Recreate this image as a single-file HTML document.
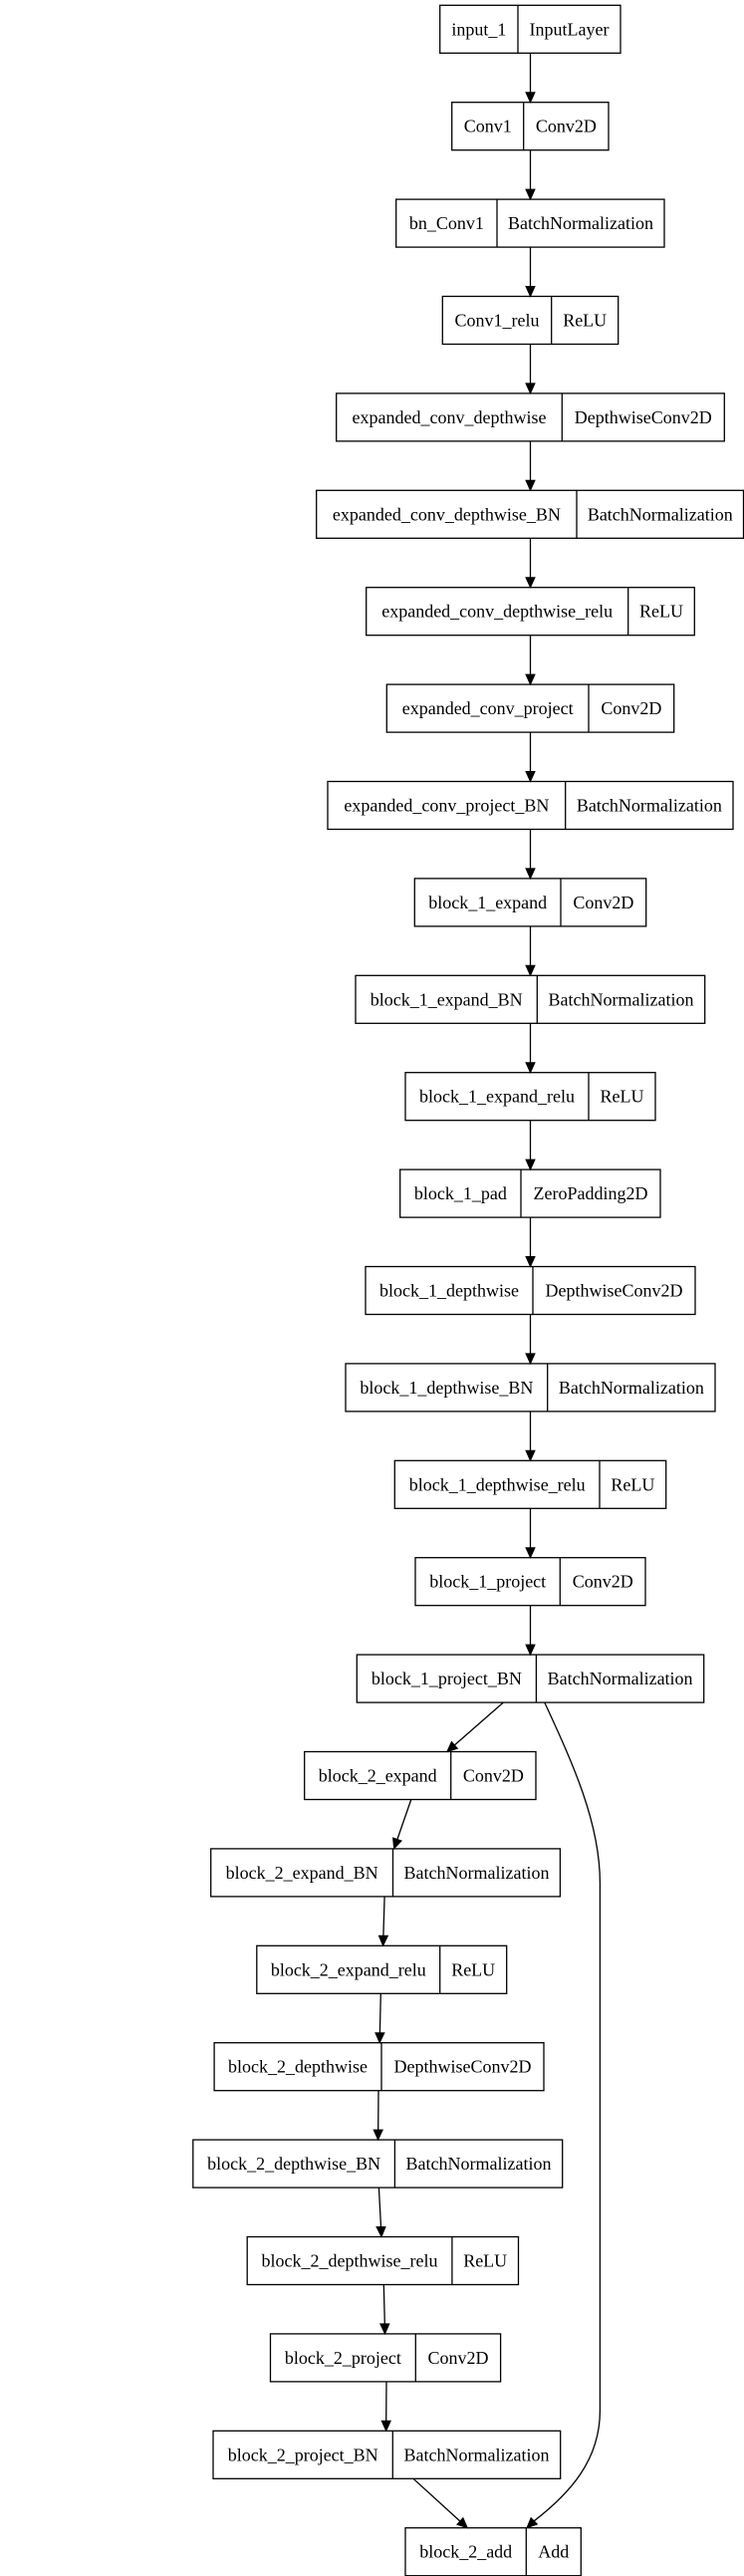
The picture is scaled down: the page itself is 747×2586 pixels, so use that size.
<!DOCTYPE html>
<html><head><meta charset="utf-8"><style>
html,body{margin:0;padding:0;background:#fff;}
svg{display:block;}
text{font-family:"Liberation Serif",serif;font-size:18px;fill:#000;text-anchor:middle;}
rect{fill:none;stroke:#000;stroke-width:1.3;}
line,path{stroke:#000;stroke-width:1.3;fill:none;}
polygon{fill:#000;stroke:#000;stroke-width:1;}
</style></head><body>
<svg width="747" height="2586" viewBox="0 0 747 2586" xmlns="http://www.w3.org/2000/svg">
<g transform="translate(0,5.3)"><rect x="441.7" y="0" width="181.3" height="48"/><line x1="520" y1="0" x2="520" y2="48"/><text x="480.9" y="30">input_1</text><text x="571.5" y="30">InputLayer</text></g>
<g transform="translate(0,102.7)"><rect x="453.7" y="0" width="157.3" height="48"/><line x1="525.7" y1="0" x2="525.7" y2="48"/><text x="489.7" y="30">Conv1</text><text x="568.4" y="30">Conv2D</text></g>
<g transform="translate(0,200.1)"><rect x="397.7" y="0" width="269.3" height="48"/><line x1="499" y1="0" x2="499" y2="48"/><text x="448.4" y="30">bn_Conv1</text><text x="583" y="30">BatchNormalization</text></g>
<g transform="translate(0,297.5)"><rect x="444.3" y="0" width="176.4" height="48"/><line x1="553.7" y1="0" x2="553.7" y2="48"/><text x="499" y="30">Conv1_relu</text><text x="587.2" y="30">ReLU</text></g>
<g transform="translate(0,394.9)"><rect x="337.7" y="0" width="389.6" height="48"/><line x1="564.3" y1="0" x2="564.3" y2="48"/><text x="451" y="30">expanded_conv_depthwise</text><text x="645.8" y="30">DepthwiseConv2D</text></g>
<g transform="translate(0,492.3)"><rect x="317.7" y="0" width="428.8" height="48"/><line x1="579" y1="0" x2="579" y2="48"/><text x="448.4" y="30">expanded_conv_depthwise_BN</text><text x="662.8" y="30">BatchNormalization</text></g>
<g transform="translate(0,589.7)"><rect x="367.7" y="0" width="329.6" height="48"/><line x1="630.7" y1="0" x2="630.7" y2="48"/><text x="499.2" y="30">expanded_conv_depthwise_relu</text><text x="664" y="30">ReLU</text></g>
<g transform="translate(0,687.1)"><rect x="388.3" y="0" width="288.4" height="48"/><line x1="591" y1="0" x2="591" y2="48"/><text x="489.7" y="30">expanded_conv_project</text><text x="633.9" y="30">Conv2D</text></g>
<g transform="translate(0,784.5)"><rect x="329" y="0" width="407" height="48"/><line x1="567.7" y1="0" x2="567.7" y2="48"/><text x="448.4" y="30">expanded_conv_project_BN</text><text x="651.9" y="30">BatchNormalization</text></g>
<g transform="translate(0,881.9)"><rect x="416.3" y="0" width="232.4" height="48"/><line x1="563" y1="0" x2="563" y2="48"/><text x="489.7" y="30">block_1_expand</text><text x="605.9" y="30">Conv2D</text></g>
<g transform="translate(0,979.3)"><rect x="357" y="0" width="350.7" height="48"/><line x1="539.3" y1="0" x2="539.3" y2="48"/><text x="448.2" y="30">block_1_expand_BN</text><text x="623.5" y="30">BatchNormalization</text></g>
<g transform="translate(0,1076.7)"><rect x="407" y="0" width="251" height="48"/><line x1="591" y1="0" x2="591" y2="48"/><text x="499" y="30">block_1_expand_relu</text><text x="624.5" y="30">ReLU</text></g>
<g transform="translate(0,1174.1)"><rect x="401.7" y="0" width="261.3" height="48"/><line x1="523" y1="0" x2="523" y2="48"/><text x="462.4" y="30">block_1_pad</text><text x="593" y="30">ZeroPadding2D</text></g>
<g transform="translate(0,1271.5)"><rect x="367" y="0" width="331" height="48"/><line x1="535" y1="0" x2="535" y2="48"/><text x="451" y="30">block_1_depthwise</text><text x="616.5" y="30">DepthwiseConv2D</text></g>
<g transform="translate(0,1368.9)"><rect x="347" y="0" width="371" height="48"/><line x1="549.7" y1="0" x2="549.7" y2="48"/><text x="448.4" y="30">block_1_depthwise_BN</text><text x="633.9" y="30">BatchNormalization</text></g>
<g transform="translate(0,1466.3)"><rect x="396.3" y="0" width="272.4" height="48"/><line x1="602" y1="0" x2="602" y2="48"/><text x="499.2" y="30">block_1_depthwise_relu</text><text x="635.4" y="30">ReLU</text></g>
<g transform="translate(0,1563.7)"><rect x="417" y="0" width="231" height="48"/><line x1="562.3" y1="0" x2="562.3" y2="48"/><text x="489.7" y="30">block_1_project</text><text x="605.2" y="30">Conv2D</text></g>
<g transform="translate(0,1661.1)"><rect x="358.3" y="0" width="348.4" height="48"/><line x1="538.4" y1="0" x2="538.4" y2="48"/><text x="448.4" y="30">block_1_project_BN</text><text x="622.6" y="30">BatchNormalization</text></g>
<g transform="translate(0,1758.5)"><rect x="305.7" y="0" width="232.3" height="48"/><line x1="452.7" y1="0" x2="452.7" y2="48"/><text x="379.2" y="30">block_2_expand</text><text x="495.4" y="30">Conv2D</text></g>
<g transform="translate(0,1855.9)"><rect x="211.7" y="0" width="350.7" height="48"/><line x1="394.5" y1="0" x2="394.5" y2="48"/><text x="303.1" y="30">block_2_expand_BN</text><text x="478.5" y="30">BatchNormalization</text></g>
<g transform="translate(0,1953.3)"><rect x="257.8" y="0" width="250.9" height="48"/><line x1="441.7" y1="0" x2="441.7" y2="48"/><text x="349.8" y="30">block_2_expand_relu</text><text x="475.2" y="30">ReLU</text></g>
<g transform="translate(0,2050.7)"><rect x="215.1" y="0" width="330.9" height="48"/><line x1="383" y1="0" x2="383" y2="48"/><text x="299" y="30">block_2_depthwise</text><text x="464.5" y="30">DepthwiseConv2D</text></g>
<g transform="translate(0,2148.1)"><rect x="193.8" y="0" width="370.9" height="48"/><line x1="396.4" y1="0" x2="396.4" y2="48"/><text x="295.1" y="30">block_2_depthwise_BN</text><text x="480.5" y="30">BatchNormalization</text></g>
<g transform="translate(0,2245.5)"><rect x="248.2" y="0" width="272.3" height="48"/><line x1="453.9" y1="0" x2="453.9" y2="48"/><text x="351" y="30">block_2_depthwise_relu</text><text x="487.2" y="30">ReLU</text></g>
<g transform="translate(0,2342.9)"><rect x="271.5" y="0" width="231.1" height="48"/><line x1="417.3" y1="0" x2="417.3" y2="48"/><text x="344.4" y="30">block_2_project</text><text x="460" y="30">Conv2D</text></g>
<g transform="translate(0,2440.3)"><rect x="214" y="0" width="348.7" height="48"/><line x1="394.3" y1="0" x2="394.3" y2="48"/><text x="304.2" y="30">block_2_project_BN</text><text x="478.5" y="30">BatchNormalization</text></g>
<g transform="translate(0,2537.7)"><rect x="407" y="0" width="176.3" height="48"/><line x1="528.3" y1="0" x2="528.3" y2="48"/><text x="467.7" y="30">block_2_add</text><text x="555.8" y="30">Add</text></g>

<g>
<line x1="532.5" y1="53.3" x2="532.5" y2="92.7"/><polygon points="528,92.7 537,92.7 532.5,102.7"/>
<line x1="532.5" y1="150.7" x2="532.5" y2="190.1"/><polygon points="528,190.1 537,190.1 532.5,200.1"/>
<line x1="532.5" y1="248.1" x2="532.5" y2="287.5"/><polygon points="528,287.5 537,287.5 532.5,297.5"/>
<line x1="532.5" y1="345.5" x2="532.5" y2="384.9"/><polygon points="528,384.9 537,384.9 532.5,394.9"/>
<line x1="532.5" y1="442.9" x2="532.5" y2="482.3"/><polygon points="528,482.3 537,482.3 532.5,492.3"/>
<line x1="532.5" y1="540.3" x2="532.5" y2="579.7"/><polygon points="528,579.7 537,579.7 532.5,589.7"/>
<line x1="532.5" y1="637.7" x2="532.5" y2="677.1"/><polygon points="528,677.1 537,677.1 532.5,687.1"/>
<line x1="532.5" y1="735.1" x2="532.5" y2="774.5"/><polygon points="528,774.5 537,774.5 532.5,784.5"/>
<line x1="532.5" y1="832.5" x2="532.5" y2="871.9"/><polygon points="528,871.9 537,871.9 532.5,881.9"/>
<line x1="532.5" y1="929.9" x2="532.5" y2="969.3"/><polygon points="528,969.3 537,969.3 532.5,979.3"/>
<line x1="532.5" y1="1027.3" x2="532.5" y2="1066.7"/><polygon points="528,1066.7 537,1066.7 532.5,1076.7"/>
<line x1="532.5" y1="1124.7" x2="532.5" y2="1164.1"/><polygon points="528,1164.1 537,1164.1 532.5,1174.1"/>
<line x1="532.5" y1="1222.1" x2="532.5" y2="1261.5"/><polygon points="528,1261.5 537,1261.5 532.5,1271.5"/>
<line x1="532.5" y1="1319.5" x2="532.5" y2="1358.9"/><polygon points="528,1358.9 537,1358.9 532.5,1368.9"/>
<line x1="532.5" y1="1416.9" x2="532.5" y2="1456.3"/><polygon points="528,1456.3 537,1456.3 532.5,1466.3"/>
<line x1="532.5" y1="1514.3" x2="532.5" y2="1553.7"/><polygon points="528,1553.7 537,1553.7 532.5,1563.7"/>
<line x1="532.5" y1="1611.7" x2="532.5" y2="1651.1"/><polygon points="528,1651.1 537,1651.1 532.5,1661.1"/>
</g>

<line x1="505.3" y1="1709.1" x2="456.4" y2="1751.9"/><polygon points="459.4,1755.3 453.4,1748.5 448.9,1758.5"/>
<line x1="412.8" y1="1806.5" x2="398.9" y2="1846.5"/><polygon points="403.1,1848 394.6,1845 395.6,1855.9"/>
<line x1="386.1" y1="1903.9" x2="384.9" y2="1943.3"/><polygon points="380.4,1943.3 389.4,1943.3 384.6,1953.3"/>
<line x1="382.3" y1="2001.3" x2="381.4" y2="2040.7"/><polygon points="376.9,2040.7 385.9,2040.7 381.2,2050.7"/>
<line x1="380" y1="2098.7" x2="379.7" y2="2138.1"/><polygon points="375.2,2138.1 384.2,2138.1 379.6,2148.1"/>
<line x1="380.4" y1="2196.1" x2="382.5" y2="2235.5"/><polygon points="378,2235.5 387,2235.5 383,2245.5"/>
<line x1="385.3" y1="2293.5" x2="386.3" y2="2332.9"/><polygon points="381.8,2332.9 390.8,2332.9 386.5,2342.9"/>
<line x1="388" y1="2390.9" x2="387.7" y2="2430.3"/><polygon points="383.2,2430.3 392.2,2430.3 387.7,2440.3"/>
<line x1="415" y1="2488.3" x2="461.9" y2="2531"/><polygon points="464.9,2527.7 458.9,2534.3 469.3,2537.7"/>
<path d="M546.8,1709.1 C575,1770 602.4,1830 602.4,1890 L602.4,2420 C602.4,2470 572,2503 536.2,2530.8"/>
<polygon points="539.3,2534 533.1,2527.6 529,2537.7"/>
</svg>
</body></html>
